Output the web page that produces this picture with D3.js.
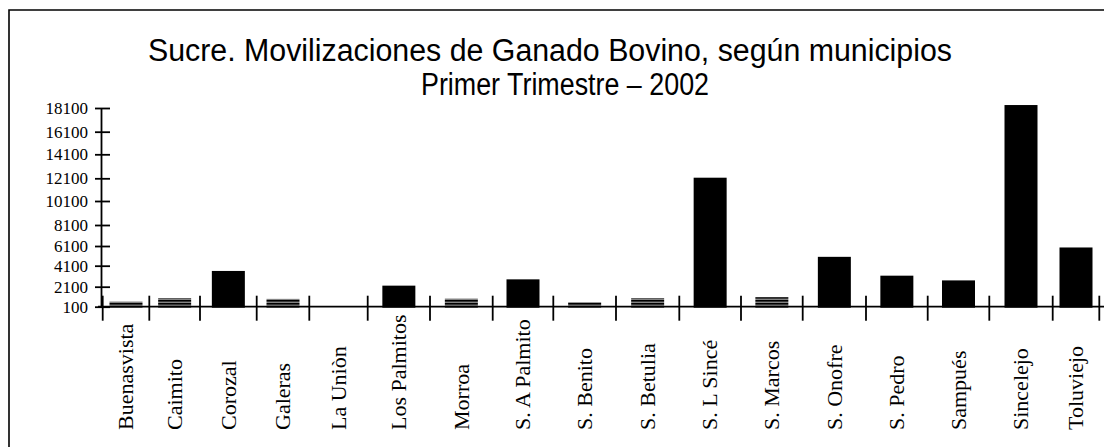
<!DOCTYPE html>
<html>
<head>
<meta charset="utf-8">
<script src="https://cdn.jsdelivr.net/npm/d3@7/dist/d3.min.js"></script>
<style>
  body { margin: 0; background: #fff; }
  .title { font-family: "Liberation Sans", Arial, sans-serif; font-size: 31px; fill: #000; }
  .yaxis text { font-family: "Liberation Serif", "Times New Roman", serif; font-size: 17px; fill: #000; }
  .xlabel { font-family: "Liberation Serif", "Times New Roman", serif; font-size: 22px; fill: #000; }
</style>
</head>
<body>
<div id="chart"></div>
<script>
var municipios = ["Buenasvista", "Caimito", "Corozal", "Galeras", "La Uniòn", "Los Palmitos",
  "Morroa", "S. A Palmito", "S. Benito", "S. Betulia", "S. L Sincé", "S. Marcos",
  "S. Onofre", "S. Pedro", "Sampués", "Sincelejo", "Toluviejo"];
var movilizaciones = [600, 950, 3600, 880, 0, 2200, 900, 2800, 550, 950, 12150, 1050,
  5000, 3150, 2700, 18350, 5950];
var yTickValues = [100, 2100, 4100, 6100, 8100, 10100, 12100, 14100, 16100, 18100];
var titleLines = ["Sucre. Movilizaciones de Ganado Bovino, según municipios", "Primer Trimestre – 2002"];

// layout of the original picture: the category bands are not evenly spaced
var width = 1104;
var height = 447;
var xEdges = [102.7, 149.3, 200, 256.7, 309.3, 367.7, 430, 492.7, 553.3, 616, 679.3, 741,
  802.7, 866, 927.7, 989.3, 1052.7, 1099.3];
var yTickPos = [306.7, 286.7, 265.7, 246, 225, 201, 178.3, 154.3, 131.7, 108];
var titleBox = [{cx: 550, y: 61, w: 804}, {cx: 565, y: 95, w: 288}];
var barWidth = 33;
var labelBase = 430;

var x = d3.scaleLinear()
  .domain(d3.range(municipios.length + 1))
  .range(xEdges);

var y = d3.scaleLinear()
  .domain(yTickValues)
  .range(yTickPos);

var svg = d3.select("#chart")
  .append("svg")
    .attr("width", width)
    .attr("height", height);

svg.append("rect")
  .attr("width", width)
  .attr("height", height)
  .attr("fill", "#fff");

// small bars come out as horizontal hatching in the original
var defs = svg.append("defs");
var hatch = defs.append("pattern")
  .attr("id", "hatch")
  .attr("patternUnits", "userSpaceOnUse")
  .attr("width", 4)
  .attr("height", 3)
  .attr("y", y(0));
hatch.append("rect").attr("width", 4).attr("height", 3).attr("fill", "#bdbdbd");
hatch.append("rect").attr("width", 4).attr("height", 2).attr("y", 1).attr("fill", "#000");

// frame (only top and left edges are inside the picture)
svg.append("path")
  .attr("d", "M9," + height + "V10H" + width)
  .attr("fill", "none")
  .attr("stroke", "#000")
  .attr("stroke-width", 1.6);

svg.selectAll(".title")
  .data(titleLines)
  .enter().append("text")
    .attr("class", "title")
    .attr("text-anchor", "middle")
    .attr("x", function(d, i) { return titleBox[i].cx; })
    .attr("y", function(d, i) { return titleBox[i].y; })
    .attr("textLength", function(d, i) { return titleBox[i].w; })
    .attr("lengthAdjust", "spacingAndGlyphs")
    .text(function(d) { return d; });

svg.selectAll(".bar")
  .data(movilizaciones)
  .enter().append("rect")
    .attr("class", "bar")
    .attr("x", function(d, i) { return (x(i) + x(i + 1)) / 2 - barWidth / 2; })
    .attr("width", barWidth)
    .attr("y", function(d) { return y(d); })
    .attr("height", function(d) { return y(0) - y(d); })
    .attr("fill", function(d) { return y(0) - y(d) < 14 ? "url(#hatch)" : "#000"; });

var yAxis = d3.axisLeft(y)
  .tickValues(yTickValues)
  .tickFormat(d3.format("d"))
  .tickSizeInner(6)
  .tickSizeOuter(0)
  .tickPadding(7);

var yAxisG = svg.append("g")
  .attr("class", "yaxis")
  .attr("transform", "translate(101,0)")
  .call(yAxis);

yAxisG.select(".domain").attr("stroke-width", 1.8);
yAxisG.selectAll(".tick line")
  .attr("x1", 9)
  .attr("stroke-width", 1.8);
yAxisG.attr("font-family", null).attr("font-size", null);

// category axis
svg.append("line")
  .attr("x1", 98)
  .attr("x2", width)
  .attr("y1", y(100))
  .attr("y2", y(100))
  .attr("stroke", "#000")
  .attr("stroke-width", 1.8);

svg.selectAll(".sep")
  .data(d3.range(municipios.length + 1))
  .enter().append("line")
    .attr("class", "sep")
    .attr("x1", function(d) { return x(d); })
    .attr("x2", function(d) { return x(d); })
    .attr("y1", y(100) - 11)
    .attr("y2", y(100) + 14)
    .attr("stroke", "#000")
    .attr("stroke-width", 1.8);

svg.selectAll(".xlabel")
  .data(municipios)
  .enter().append("text")
    .attr("class", "xlabel")
    .attr("text-anchor", "start")
    .attr("transform", function(d, i) {
      return "translate(" + (x(i) + x(i + 1)) / 2 + "," + labelBase + ") rotate(-90)";
    })
    .attr("dy", "0.33em")
    .text(function(d) { return d; });
</script>
</body>
</html>
